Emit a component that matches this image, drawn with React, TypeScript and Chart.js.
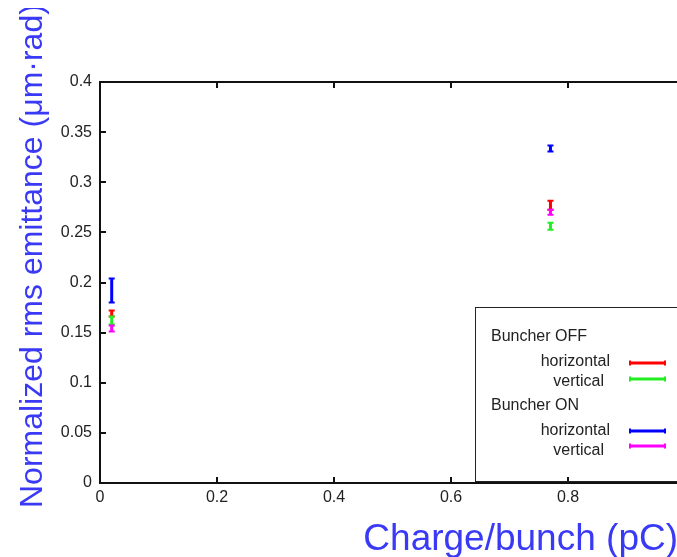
import React, { useEffect, useRef } from "react";
import { Chart, registerables } from "chart.js";

Chart.register(...registerables);

const charge = [0.02, 0.77];
const offH = [0.169, 0.277];
const offHErr = [0.003, 0.0045];
const offV = [0.162, 0.256];
const offVErr = [0.004, 0.0035];
const onH = [0.192, 0.3337];
const onHErr = [0.012, 0.003];
const onV = [0.154, 0.27];
const onVErr = [0.003, 0.0025];

const groupNames = ["Buncher OFF", "Buncher ON"];
const seriesNames = ["horizontal", "vertical", "horizontal", "vertical"];
const seriesColors = ["#ff0000", "#22ee22", "#0000ff", "#ff00ff"];

const xTitle = "Charge/bunch (pC)";
const yTitle = "Normalized rms emittance (\u03bcm\u00b7rad)";

const FONT = "'Liberation Sans', Arial, sans-serif";
const TITLE_BLUE = "#3a3af6";

function pts(ys: number[], es: number[]) {
  return charge.map((x, i) => ({ x, y: ys[i], e: es[i] }));
}

const errorBarPlugin = {
  id: "errorBars",
  afterDatasetsDraw(chart: any) {
    const ctx = chart.ctx;
    const xs = chart.scales.x;
    const ys = chart.scales.y;
    chart.data.datasets.forEach((ds: any) => {
      ctx.save();
      ctx.strokeStyle = ds.borderColor;
      ds.data.forEach((p: any) => {
        const px = xs.getPixelForValue(p.x);
        const top = ys.getPixelForValue(p.y + p.e);
        const bot = ys.getPixelForValue(p.y - p.e);
        ctx.lineWidth = 3;
        ctx.beginPath();
        ctx.moveTo(px, top);
        ctx.lineTo(px, bot);
        ctx.stroke();
        ctx.lineWidth = 2;
        ctx.beginPath();
        ctx.moveTo(px - 3, top);
        ctx.lineTo(px + 3, top);
        ctx.moveTo(px - 3, bot);
        ctx.lineTo(px + 3, bot);
        ctx.stroke();
      });
      ctx.restore();
    });
  },
};

const framePlugin = {
  id: "frame",
  afterDraw(chart: any) {
    const ctx = chart.ctx;
    const a = chart.chartArea;
    const xs = chart.scales.x;
    const ys = chart.scales.y;
    ctx.save();
    ctx.strokeStyle = "#111";
    ctx.lineWidth = 2;
    ctx.beginPath();
    xs.ticks.forEach((t: any) => {
      const px = Math.round(xs.getPixelForValue(t.value));
      ctx.moveTo(px, a.bottom);
      ctx.lineTo(px, a.bottom - 6);
      ctx.moveTo(px, a.top);
      ctx.lineTo(px, a.top + 6);
    });
    ys.ticks.forEach((t: any) => {
      const py = Math.round(ys.getPixelForValue(t.value));
      ctx.moveTo(a.left, py);
      ctx.lineTo(a.left + 6, py);
    });
    ctx.stroke();
    ctx.beginPath();
    ctx.moveTo(a.right + 5, a.top);
    ctx.lineTo(a.left, a.top);
    ctx.lineTo(a.left, a.bottom);
    ctx.lineTo(a.right + 5, a.bottom);
    ctx.stroke();

    // legend box
    ctx.lineWidth = 1;
    ctx.strokeStyle = "#222";
    ctx.strokeRect(467.5, 299.5, 260, 174);

    ctx.fillStyle = "#222";
    ctx.font = `16px ${FONT}`;
    ctx.textBaseline = "middle";
    const rows = [
      { type: "g", text: groupNames[0], y: 329 },
      { type: "s", idx: 0, y: 354, ly: 355 },
      { type: "s", idx: 1, y: 374, ly: 371 },
      { type: "g", text: groupNames[1], y: 398 },
      { type: "s", idx: 2, y: 423, ly: 423 },
      { type: "s", idx: 3, y: 443, ly: 438 },
    ];
    rows.forEach((r: any) => {
      if (r.type === "g") {
        ctx.textAlign = "left";
        ctx.fillText(r.text, 483, r.y);
      } else {
        ctx.textAlign = "right";
        const right = seriesNames[r.idx] === "horizontal" ? 602 : 596;
        ctx.fillText(seriesNames[r.idx], right, r.y);
        const col = chart.data.datasets[r.idx].borderColor;
        ctx.strokeStyle = col;
        ctx.lineWidth = 3;
        ctx.beginPath();
        ctx.moveTo(622, r.ly);
        ctx.lineTo(657, r.ly);
        ctx.stroke();
        ctx.lineWidth = 2;
        ctx.beginPath();
        ctx.moveTo(622, r.ly - 2.5);
        ctx.lineTo(622, r.ly + 2.5);
        ctx.moveTo(657, r.ly - 2.5);
        ctx.lineTo(657, r.ly + 2.5);
        ctx.stroke();
      }
    });

    ctx.fillStyle = TITLE_BLUE;
    ctx.textBaseline = "alphabetic";
    ctx.font = `37px ${FONT}`;
    ctx.textAlign = "right";
    ctx.fillText(xTitle, 670, 542);

    ctx.font = `32px ${FONT}`;
    ctx.translate(34, 500);
    ctx.rotate(-Math.PI / 2);
    ctx.textAlign = "left";
    ctx.fillText(yTitle, 0, 0);
    ctx.restore();
  },
};

export default function App() {
  const ref = useRef<HTMLCanvasElement | null>(null);
  useEffect(() => {
    document.documentElement.style.overflow = "hidden";
    document.body.style.marginRight = "0px";
    document.body.style.marginBottom = "0px";
    const canvas = ref.current;
    if (!canvas) return;
    const mk = (i: number, ys: number[], es: number[]) => ({
      label: seriesNames[i],
      data: pts(ys, es),
      borderColor: seriesColors[i],
      backgroundColor: seriesColors[i],
      pointRadius: 0,
      showLine: false,
    });
    const chart = new Chart(canvas, {
      type: "scatter",
      data: {
        datasets: [
          mk(0, offH, offHErr),
          mk(1, offV, offVErr),
          mk(2, onH, onHErr),
          mk(3, onV, onVErr),
        ],
      },
      options: {
        animation: false,
        responsive: false,
        devicePixelRatio: 1,
        layout: { padding: { top: 74, left: 0, right: 0, bottom: 0 } },
        plugins: { legend: { display: false }, tooltip: { enabled: false } },
        scales: {
          x: {
            type: "linear",
            min: 0,
            max: 0.9863,
            afterBuildTicks: (s: any) => {
              s.ticks = s.ticks.filter(
                (t: any) => Math.abs(t.value / 0.2 - Math.round(t.value / 0.2)) < 1e-6
              );
            },
            afterFit: (s: any) => {
              s.height = 74;
            },
            ticks: {
              stepSize: 0.2,
              color: "#222",
              font: { family: FONT, size: 16 },
              padding: 5,
              maxRotation: 0,
              callback: (v: any) => String(Number(Number(v).toFixed(2))),
            },
            grid: { display: true, drawOnChartArea: false, drawTicks: false },
            border: { display: false },
          },
          y: {
            type: "linear",
            min: 0,
            max: 0.4,
            afterFit: (s: any) => {
              s.width = 92;
            },
            ticks: {
              stepSize: 0.05,
              color: "#222",
              font: { family: FONT, size: 16 },
              padding: 8,
              callback: (v: any) => String(Number(Number(v).toFixed(2))),
            },
            grid: { display: true, drawOnChartArea: false, drawTicks: false },
            border: { display: false },
          },
        },
      },
      plugins: [errorBarPlugin, framePlugin],
    } as any);
    return () => chart.destroy();
  }, []);
  return (
    <div style={{ width: 669, height: 549 }}>
      <canvas ref={ref} width={669} height={549} style={{ display: "block", width: 669, height: 549 }} />
    </div>
  );
}
